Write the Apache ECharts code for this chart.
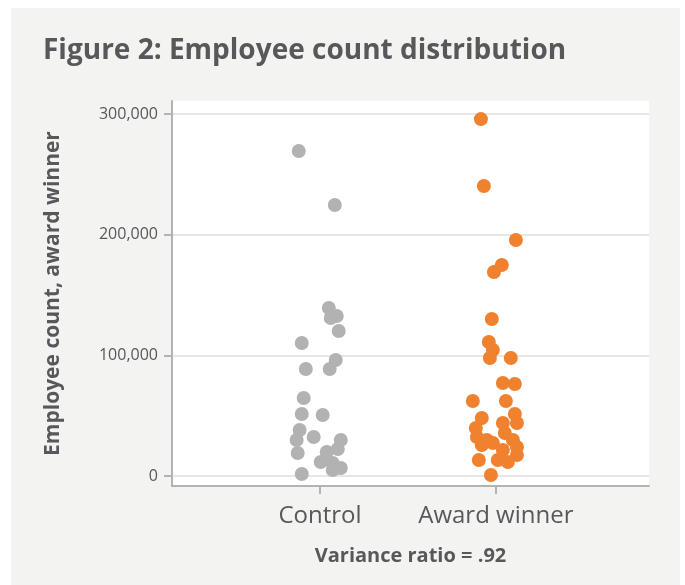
<!DOCTYPE html>
<html>
<head>
<meta charset="utf-8">
<script src="https://cdn.jsdelivr.net/npm/echarts@6/dist/echarts.min.js"></script>
<style>
  html, body { margin: 0; padding: 0; background: #fff; }
  #chart { width: 685px; height: 585px; }
</style>
</head>
<body>
<div id="chart"></div>
<script>
// 分类与数据
var categories = ['Control', 'Award winner'];
var yTicks = [0, 100000, 200000, 300000];

// 对照组: 员工数 + 水平抖动
var controlValues = [269300, 224600, 139200, 132600, 130900, 120200, 110200, 96100, 88700, 88700,
  64600, 51400, 50600, 38100, 29800, 32300, 29800, 22400, 19900, 19100, 11600, 10800, 6600, 5000, 1700];
var controlJitter = [-0.121, 0.084, 0.050, 0.095, 0.061, 0.106, -0.104, 0.089, 0.055, -0.081,
  -0.093, -0.104, 0.015, -0.116, -0.133, -0.036, 0.118, 0.101, 0.038, -0.127, 0.004, 0.072, 0.118, 0.072, -0.104];

// 获奖组
var awardValues = [295800, 240300, 195600, 174900, 169100, 130100, 111000, 104400, 97800, 97800,
  77100, 76200, 62200, 62200, 51400, 48100, 43900, 43900, 39800, 32300, 35600, 29800, 29800, 27300,
  25700, 24000, 21500, 17400, 13300, 13300, 11600, 800];
var awardJitter = [-0.085, -0.068, 0.114, 0.034, -0.011, -0.023, -0.040, -0.017, -0.034, 0.085,
  0.040, 0.108, -0.131, 0.057, 0.108, -0.080, 0.120, 0.040, -0.114, -0.108, 0.051, 0.097, -0.051, -0.017,
  -0.080, 0.120, 0.040, 0.120, -0.097, 0.011, 0.068, -0.028];

function toPoints(pos, jitter, values) {
  return values.map(function (v, i) { return [pos + jitter[i], v]; });
}

var textColor = '#58585a';
var axisColor = '#b3b3b3';
var font = 'Open Sans';

var myChart = echarts.init(document.getElementById('chart'));

var option = {
  backgroundColor: 'transparent',
  textStyle: { fontFamily: font },
  title: {
    text: 'Figure 2: Employee count distribution',
    left: 38,
    top: 32,
    textStyle: { fontSize: 28, fontWeight: 'bold', color: textColor, fontFamily: font }
  },
  graphic: [{
    type: 'rect',
    left: 11, top: 8,
    z: -100,
    silent: true,
    shape: { width: 669, height: 577 },
    style: { fill: '#f3f3f2' }
  }],
  grid: {
    left: 172, right: 36, top: 101, bottom: 99,
    show: true,
    backgroundColor: '#fff',
    borderWidth: 0
  },
  xAxis: {
    type: 'value',
    min: 0.158,
    max: 2.871,
    name: 'Variance ratio = .92',
    nameLocation: 'middle',
    nameGap: 60,
    nameTextStyle: { fontSize: 20, fontWeight: 'bold', color: textColor, fontFamily: font },
    axisLine: { show: true, onZero: false, lineStyle: { color: axisColor, width: 2 } },
    axisTick: { show: true, length: 8, customValues: [1, 2], lineStyle: { color: axisColor, width: 2 } },
    axisLabel: {
      customValues: [1, 2],
      margin: 18,
      fontSize: 24,
      color: textColor,
      formatter: function (v) { return categories[Math.round(v) - 1]; }
    },
    splitLine: { show: false }
  },
  yAxis: {
    type: 'value',
    min: -8300,
    max: 310800,
    name: 'Employee count, award winner',
    nameLocation: 'middle',
    nameGap: 108,
    nameTextStyle: { fontSize: 21, fontWeight: 'bold', color: textColor, fontFamily: font },
    axisLine: { show: true, onZero: false, lineStyle: { color: axisColor, width: 2 } },
    axisTick: { show: true, length: 8, customValues: yTicks, lineStyle: { color: axisColor, width: 2 } },
    axisLabel: {
      customValues: yTicks,
      margin: 14,
      fontSize: 16,
      color: textColor,
      formatter: function (v) { return v.toLocaleString('en-US'); }
    },
    splitLine: { show: true, lineStyle: { color: '#e6e6e6', width: 2 } }
  },
  series: [{
    name: categories[0],
    type: 'scatter',
    symbolSize: 14,
    itemStyle: { color: '#b2b2b2', opacity: 1 },
    data: toPoints(1, controlJitter, controlValues)
  }, {
    name: categories[1],
    type: 'scatter',
    symbolSize: 14,
    itemStyle: { color: '#f0812e', opacity: 1 },
    data: toPoints(2, awardJitter, awardValues)
  }]
};
myChart.setOption(option);
</script>
</body>
</html>
